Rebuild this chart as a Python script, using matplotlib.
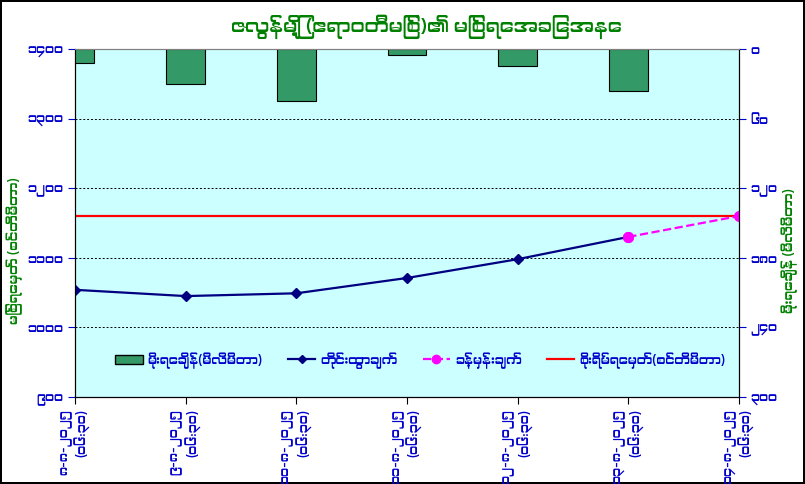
import matplotlib
matplotlib.use("Agg")
import matplotlib.pyplot as plt
from matplotlib import font_manager
from matplotlib.ft2font import FT2Font
from matplotlib.ticker import FuncFormatter, FixedLocator
from matplotlib.patches import Patch
from matplotlib.lines import Line2D

# ---- data ----
dates = ["၈-၈-၂၀၂၅", "၉-၈-၂၀၂၅", "၁၀-၈-၂၀၂၅", "၁၁-၈-၂၀၂၅",
         "၁၂-၈-၂၀၂၅", "၁၃-၈-၂၀၂၅", "၁၄-၈-၂၀၂၅"]
obs_time = "(၀၆:၃၀)"
rainfall = [12, 30, 45, 5, 15, 36, 0]          # mm
level_obs = [1054, 1045, 1049, 1071, 1098, 1130]   # cm
level_fc_idx = [5, 6]
level_fc = [1130, 1160]
danger_level = 1160

title = "ဇလွန်မြို့ (ဧရာဝတီမြစ်)၏ မြစ်ရေအခြေအနေ"
ylabel_left = "မြစ်ရေမှတ် (စင်တီမီတာ)"
ylabel_right = "မိုးရေချိန် (မီလီမီတာ)"
leg_rain = "မိုးရေချိန်(မီလီမီတာ)"
leg_obs = "တိုင်းထွာချက်"
leg_fc = "ခန့်မှန်းချက်"
leg_danger = "စိုးရိမ်ရေမှတ်(စင်တီမီတာ)"


def find_myanmar_font():
    fonts = sorted(font_manager.fontManager.ttflist,
                   key=lambda f: 0 if ("myanmar" in f.name.lower() or "padauk" in f.name.lower()) else 1)
    for f in fonts:
        try:
            if 0x1000 in FT2Font(f.fname).get_charmap():
                return f.name
        except Exception:
            pass
    return None


mm_font = find_myanmar_font()
families = [mm_font, "DejaVu Sans"] if mm_font else ["DejaVu Sans"]
plt.rcParams["font.family"] = families

MM_DIGITS = str.maketrans("0123456789", "၀၁၂၃၄၅၆၇၈၉")


def mm_num(v, pos=None):
    return str(int(round(v))).translate(MM_DIGITS)


green = "#008000"
blue = "#0000CC"

fig = plt.figure(figsize=(8.05, 4.84), dpi=100)
fig.patch.set_facecolor("white")
fig.patch.set_edgecolor("black")
fig.patch.set_linewidth(1.5)

ax = fig.add_axes([75 / 805, 1 - 397 / 484, (739 - 75) / 805, (397 - 49) / 484])
ax.set_facecolor("#CCFFFF")
ax2 = ax.twinx()

x = list(range(len(dates)))

# rainfall bars hanging from the top (inverted right axis)
ax2.bar(x, rainfall, width=0.35, color="#339966", edgecolor="black", linewidth=0.8)
ax2.set_ylim(300, 0)
ax2.yaxis.set_major_locator(FixedLocator([0, 60, 120, 180, 240, 300]))
ax2.yaxis.set_major_formatter(FuncFormatter(mm_num))

# water levels
ax.set_ylim(900, 1400)
ax.set_xlim(0, 6)
ax.yaxis.set_major_locator(FixedLocator([900, 1000, 1100, 1200, 1300, 1400]))
ax.yaxis.set_major_formatter(FuncFormatter(mm_num))
for g in [1000, 1100, 1200, 1300]:
    ax.axhline(g, color="black", linestyle=(0, (2, 2)), linewidth=0.7, zorder=1)
ax.axhline(danger_level, color="#FF0000", linewidth=1.6, zorder=3)
ax.plot(level_fc_idx, level_fc, color="#FF00FF", linestyle="--", linewidth=1.6,
        marker="o", markersize=7, zorder=4)
ax.plot(x[:len(level_obs)], level_obs, color="#000080", linewidth=1.6,
        marker="D", markersize=5, zorder=5)
ax.plot([level_fc_idx[0]], [level_fc[0]], color="#FF00FF", marker="o",
        markersize=7, linestyle="none", zorder=6)

ax.set_xticks(x)
ax.set_xticklabels([d + "\n" + obs_time for d in dates], rotation=90,
                   multialignment="right", color=blue, fontsize=9, fontweight="bold")

for a in (ax, ax2):
    a.tick_params(axis="y", colors=blue, labelsize=9, direction="out", length=5)
    a.tick_params(axis="x", direction="out", length=5)
    for lab in a.get_yticklabels():
        lab.set_fontweight("bold")
ax.spines["top"].set_color("gray")
ax2.spines["top"].set_color("gray")

ax.set_ylabel(ylabel_left, color=green, fontsize=9.5, fontweight="bold")
ax2.set_ylabel(ylabel_right, color=green, fontsize=9.5, fontweight="bold", rotation=90)
ax.yaxis.set_label_coords(-0.078, 0.42)
ax2.yaxis.set_label_coords(1.064, 0.42)

fig.text(0.53, 0.945, title, color=green, fontsize=14, fontweight="bold",
         ha="center", va="center")

handles = [
    Patch(facecolor="#339966", edgecolor="black"),
    Line2D([], [], color="#000080", marker="D", markersize=4, linewidth=1.6),
    Line2D([], [], color="#FF00FF", marker="o", markersize=6, linestyle="--", linewidth=1.6),
    Line2D([], [], color="#FF0000", linewidth=1.6),
]
ax2.legend(handles, [leg_rain, leg_obs, leg_fc, leg_danger], ncol=4,
           loc="center", bbox_to_anchor=(0.52, 0.105), frameon=False,
           prop={"size": 9, "weight": "bold"}, labelcolor=blue,
           handlelength=2.2, columnspacing=2.0, handletextpad=0.4)

fig.savefig("out.png", dpi=100)
